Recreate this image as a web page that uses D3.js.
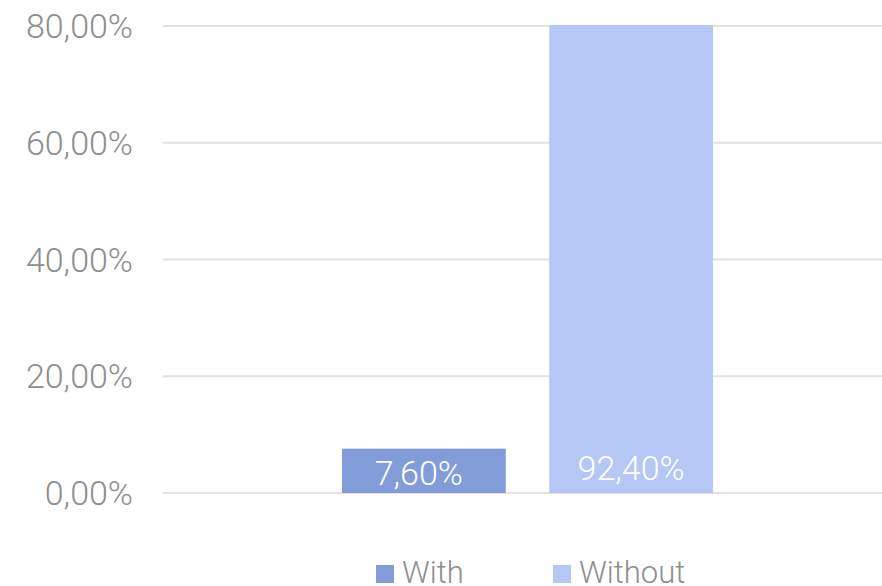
<!DOCTYPE html>
<html>
<head>
<meta charset="utf-8">
<script src="https://cdn.jsdelivr.net/npm/d3@7"></script>
<style>
 body{margin:0;background:#fff;}
 svg{display:block;font-family:Roboto,"Liberation Sans",Arial,sans-serif;font-weight:300;}
</style>
</head>
<body>
<script>
// single category, two series; "Without" overshoots the 80% axis max and is clipped.
const series=["With","Without"];
const values=[7.6,92.4];
const colours=["#819cd8","#b5c8f5"];
const ticks=[0,20,40,60,80];

const width=882,height=586;
const margin={left:163,right:-10,top:26,bottom:93};
const fmt=v=>d3.format(".2f")(v).replace(".",",")+"%";

const svg=d3.select("body").append("svg").attr("width",width).attr("height",height);

const y=d3.scaleLinear().domain([0,80]).range([height-margin.bottom,margin.top]);
const x=d3.scaleBand().domain(series).range([342,713]).paddingInner(0.21);

// gridlines
svg.append("g").selectAll("line").data(ticks).join("line")
 .attr("x1",margin.left).attr("x2",width-margin.right)
 .attr("y1",d=>y(d)).attr("y2",d=>y(d))
 .attr("stroke","#e2e2e2").attr("stroke-width",2);

// tick labels
svg.append("g").selectAll("text").data(ticks).join("text")
 .attr("x",133).attr("y",d=>y(d)).attr("dy","0.36em")
 .attr("text-anchor","end").attr("fill","#8e8e8e")
 .style("font-size","34px").text(fmt);

svg.append("clipPath").attr("id","plot").append("rect")
 .attr("x",margin.left).attr("y",margin.top-1)
 .attr("width",width-margin.left).attr("height",height-margin.bottom-margin.top+1);

const bars=svg.append("g").attr("clip-path","url(#plot)");
bars.selectAll("rect").data(series).join("rect")
 .attr("x",d=>x(d)).attr("width",x.bandwidth())
 .attr("y",(d,i)=>y(values[i])).attr("height",(d,i)=>y(0)-y(values[i]))
 .attr("fill",(d,i)=>colours[i]);

bars.selectAll("text").data(series).join("text")
 .attr("x",(d,i)=>x(d)+x.bandwidth()/2-(i?0:5)).attr("y",(d,i)=>y(0)-(i?13:8))
 .attr("text-anchor","middle").attr("fill","#fff")
 .style("font-size","34px").text((d,i)=>fmt(values[i]));

// legend, sitting right at the bottom edge
const legend=svg.append("g").selectAll("g").data(series).join("g")
 .attr("transform",(d,i)=>`translate(${[376,553][i]},565)`);
legend.append("rect").attr("width",18).attr("height",18).attr("fill",(d,i)=>colours[i]);
legend.append("text").attr("x",26).attr("y",18)
 .attr("fill","#8e8e8e").style("font-size","31px").text(d=>d);
</script>
</body>
</html>
